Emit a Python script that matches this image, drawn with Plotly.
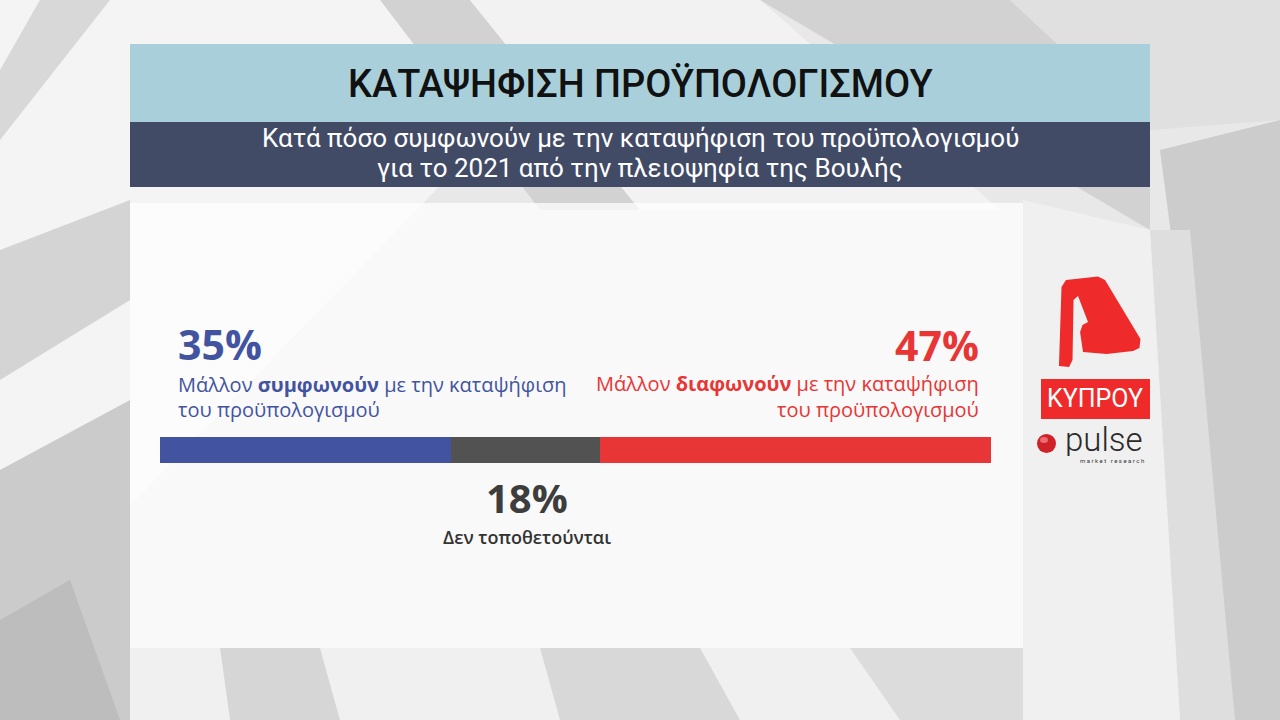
import plotly.graph_objects as go

# ---- data ----
categories = ["Μάλλον συμφωνούν", "Δεν τοποθετούνται", "Μάλλον διαφωνούν"]
values = [35, 18, 47]
colors = ["#4254a0", "#525252", "#e83535"]

title = "ΚΑΤΑΨΗΦΙΣΗ ΠΡΟΫΠΟΛΟΓΙΣΜΟΥ"
subtitle_lines = ["Κατά πόσο συμφωνούν με την καταψήφιση του προϋπολογισμού",
                  "για το 2021 από την πλειοψηφία της Βουλής"]
label_agree = ["Μάλλον <b>συμφωνούν</b> με την καταψήφιση", "του προϋπολογισμού"]
label_disagree = ["Μάλλον <b>διαφωνούν</b> με την καταψήφιση", "του προϋπολογισμού"]
label_neutral = "Δεν τοποθετούνται"

W, H = 1280, 720
NARROW = "Roboto, sans-serif"
SANS = "Open Sans, Noto Sans, sans-serif"

fig = go.Figure()
for cat, v, c in zip(categories, values, colors):
    fig.add_trace(go.Bar(x=[v], y=[0], orientation="h", name=cat,
                         marker=dict(color=c, line=dict(width=0)), width=1,
                         hoverinfo="skip"))

def px(x):
    return x / W

def py(y):
    return 1 - y / H

shapes = []

def poly(points, fill, opacity=1.0, layer="below"):
    path = "M " + " L ".join(f"{px(x):.4f},{py(y):.4f}" for x, y in points) + " Z"
    shapes.append(dict(type="path", xref="paper", yref="paper", path=path,
                       fillcolor=fill, line=dict(width=0), opacity=opacity, layer=layer))

# background decorative beams
poly([(0, 0), (1280, 0), (1280, 720), (0, 720)], "#e8e8e8")
poly([(0, 0), (620, 0), (0, 640)], "#f4f4f4")
poly([(40, 0), (110, 0), (0, 140), (0, 70)], "#d8d8d8")
poly([(380, 0), (470, 0), (640, 210), (540, 210)], "#d2d2d2")
poly([(470, 0), (760, 0), (1000, 210), (640, 210)], "#f2f2f2")
poly([(760, 0), (1010, 0), (1150, 130), (1150, 230)], "#d2d2d2")
poly([(1010, 0), (1280, 0), (1280, 120), (1150, 130)], "#e0e0e0")
poly([(1160, 150), (1280, 120), (1280, 720), (1235, 720)], "#cccccc")
poly([(1150, 230), (1190, 230), (1235, 720), (1180, 720)], "#dedede")
poly([(1023, 200), (1150, 230), (1180, 720), (1023, 720)], "#f0f0f0")
poly([(0, 250), (130, 200), (130, 300), (0, 380)], "#d4d4d4")
poly([(0, 470), (130, 400), (130, 720), (0, 720)], "#cbcbcb")
poly([(0, 620), (70, 580), (120, 720), (0, 720)], "#bdbdbd")
poly([(130, 648), (1023, 648), (1023, 720), (130, 720)], "#f0f0f0")
poly([(220, 648), (320, 648), (340, 720), (230, 720)], "#d6d6d6")
poly([(540, 648), (700, 648), (740, 720), (560, 720)], "#d8d8d8")
poly([(850, 648), (1023, 648), (1023, 720), (900, 720)], "#dcdcdc")

def rect(x0, y0, x1, y1, fill, opacity=1.0, layer="below"):
    shapes.append(dict(type="rect", xref="paper", yref="paper",
                       x0=px(x0), x1=px(x1), y0=py(y1), y1=py(y0),
                       fillcolor=fill, line=dict(width=0), opacity=opacity, layer=layer))

# panels
rect(130, 44, 1150, 122, "#a9d0da")
rect(130, 122, 1150, 187, "#424b66")
rect(130, 203, 1023, 648, "#ffffff", 0.72)

# Alpha logo (stylised Λ with a notch on the left leg)
alpha = [(1059, 366), (1061.5, 287), (1066, 280), (1098, 276.5), (1105, 280),
         (1140.5, 339), (1139.5, 348), (1133, 351), (1106.5, 354), (1083, 352),
         (1080, 332), (1082.5, 325), (1088, 322), (1078, 296), (1073.5, 300),
         (1072.5, 360), (1069, 367)]
poly(alpha, "#ee2a2a", layer="above")
rect(1041, 379, 1150, 419, "#ee2a2a", layer="above")
# pulse ball
shapes.append(dict(type="circle", xref="paper", yref="paper", x0=px(1037), x1=px(1056),
                   y0=py(453), y1=py(434), fillcolor="#cf2228", line=dict(width=0), layer="above"))
shapes.append(dict(type="circle", xref="paper", yref="paper", x0=px(1040), x1=px(1048),
                   y0=py(443), y1=py(437), fillcolor="#f08080", line=dict(width=0),
                   opacity=0.8, layer="above"))

ann = []
def text(x, y, t, size, color, anchor="left", family=SANS, weight=None, height=None):
    f = dict(size=size, color=color, family=family)
    if weight:
        f["weight"] = weight
    a = dict(x=px(x), y=py(y), xref="paper", yref="paper", text=t, showarrow=False,
             xanchor=anchor, yanchor="middle", align=anchor, font=f)
    if height:
        a["height"] = height
    ann.append(a)

text(640, 84, title, 38, "#111111", "center", NARROW, 500)
text(640, 138, subtitle_lines[0], 26, "#ffffff", "center", NARROW)
text(640, 168, subtitle_lines[1], 26, "#ffffff", "center", NARROW)

text(176, 344, f"<b>{values[0]}%</b>", 41, colors[0], height=44)
text(176, 384, label_agree[0], 20, colors[0], height=26)
text(176, 409, label_agree[1], 20, colors[0], height=26)
text(981, 345, f"<b>{values[2]}%</b>", 41, colors[2], "right", height=44)
text(981, 383, label_disagree[0], 20, colors[2], "right", height=26)
text(981, 409, label_disagree[1], 20, colors[2], "right", height=26)
text(527, 497, f"<b>{values[1]}%</b>", 40, "#3d3d3d", "center")
text(527, 537, label_neutral, 18, "#333333", "center", SANS, 600)

text(1095, 398, "ΚΥΠΡΟΥ", 25, "#ffffff", "center", NARROW)
text(1104, 439, "pulse", 33, "#2a2a2a", "center", "Roboto, sans-serif", 300, height=34)
text(1112, 461, "m a r k e t   r e s e a r c h", 6, "#333333", "center", "Roboto, sans-serif")

fig.update_layout(
    width=W, height=H,
    margin=dict(l=0, r=0, t=0, b=0),
    paper_bgcolor="#e8e8e8", plot_bgcolor="rgba(0,0,0,0)",
    barmode="stack", bargap=0, showlegend=False,
    xaxis=dict(domain=[px(160), px(991)], range=[0, 100], visible=False, fixedrange=True),
    yaxis=dict(domain=[py(463), py(437)], range=[-0.5, 0.5], visible=False, fixedrange=True),
    shapes=shapes, annotations=ann,
)
fig.write_html("out.html", config={"displayModeBar": False})
